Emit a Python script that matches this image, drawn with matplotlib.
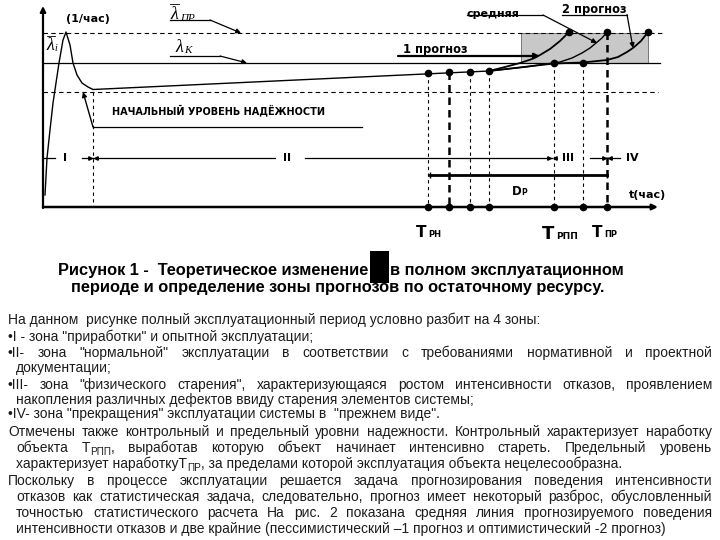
import re
import matplotlib
matplotlib.use('Agg')
import matplotlib.pyplot as plt
from matplotlib.patches import Rectangle

# picture is laid out in pixel units: x to the right, y downwards
W, H = 720, 540

# failure-rate curve lambda(t): running-in peak, then slow rise
curve_x = [45, 47, 50, 53, 59, 63, 66, 70, 73, 77, 82, 88, 93, 489]
curve_y = [195, 158, 130, 103, 63, 40, 32, 45, 63, 75, 83, 87, 89.5, 71]

# observed points before the forecast
obs_x = [428, 449, 470, 489]
obs_y = [73, 72, 72, 71]

# forecasts from the last observed point
fc1_x = [489, 505, 520, 532, 540, 550, 560, 569]          # 1 прогноз
fc1_y = [71, 67, 63, 59, 55, 49, 41, 32]
mid_x = [489, 525, 560, 572, 582, 590, 596, 602, 607]     # средняя
mid_y = [71, 67, 62, 58, 53, 48, 43, 38, 32]
fc2_x = [489, 554, 583, 607, 618, 627, 633, 641, 648]     # 2 прогноз
fc2_y = [71, 63.5, 62.5, 60, 57, 52, 48, 41, 32]
fc_end_x = [554, 583, 569, 607, 648]
fc_end_y = [63, 63, 32, 32, 32]

# times marked on the t axis and the level each one is dropped from
drop_x = [428, 449, 470, 489, 554, 583, 607]
drop_top = [73, 72, 72, 71, 63, 63, 32]

# reliability levels
lam_pr = 33     # предельный
lam_k = 63      # контрольный
lam_0 = 92      # начальный

zone_names = ['I', 'II', 'III', 'IV']
zone_label_x = [65, 287, 568, 632]

body_lines = [
    'На данном  рисунке полный эксплуатационный период условно разбит на 4 зоны:',
    '•I - зона "приработки" и опытной эксплуатации;',
    '•II- зона "нормальной" эксплуатации в соответствии с требованиями нормативной и проектной',
    'документации;',
    '•III- зона "физического старения", характеризующаяся ростом интенсивности отказов, проявлением',
    'накопления различных дефектов ввиду старения элементов системы;',
    '•IV- зона "прекращения" эксплуатации системы в  "прежнем виде".',
    'Отмечены также контрольный и предельный уровни надежности. Контрольный характеризует наработку',
    'объекта T_{РПП}, выработав которую объект начинает интенсивно стареть. Предельный уровень',
    'характеризует наработкуT_{ПР}, за пределами которой эксплуатация объекта нецелесообразна.',
    'Поскольку в процессе эксплуатации решается задача прогнозирования поведения интенсивности',
    'отказов как статистическая задача, следовательно, прогноз имеет некоторый разброс, обусловленный',
    'точностью статистического расчета  На рис. 2 показана средняя линия прогнозируемого поведения',
    'интенсивности отказов и две крайние (пессимистический –1 прогноз и оптимистический -2 прогноз)',
]
body_indent = [8, 8, 8, 16, 8, 16, 8, 8, 16, 16, 8, 16, 16, 16]
body_justify = [0, 0, 1, 0, 1, 0, 0, 1, 1, 0, 1, 1, 1, 0]
body_base = [324, 341, 357, 372, 389, 404, 418, 436, 452, 468, 485, 501, 517, 533]

fig = plt.figure(figsize=(7.2, 5.4), dpi=100)
ax = fig.add_axes([0, 0, 1, 1])
ax.set_xlim(0, W)
ax.set_ylim(H, 0)
ax.axis('off')
R = fig.canvas.get_renderer()

BOLD = dict(family='DejaVu Sans', fontweight='bold', color='k')
LAM = dict(family='Liberation Serif', style='italic', color='k')


def arrow(x0, y0, x1, y1, lw=0.9, ms=7):
    ax.annotate('', xy=(x1, y1), xytext=(x0, y0),
                arrowprops=dict(arrowstyle='-|>', lw=lw, color='k', mutation_scale=ms,
                                shrinkA=0, shrinkB=0))


# ---- levels and the forecast box
ax.plot([43, 662], [lam_pr, lam_pr], color='k', lw=0.8, dashes=(4, 3))
ax.plot([43, 660], [lam_k, lam_k], color='k', lw=0.9)
ax.plot([43, 658], [lam_0, lam_0], color='k', lw=0.8, dashes=(4, 3))
ax.add_patch(Rectangle((521, lam_pr), 127, lam_k - lam_pr, fc='#c8c8c8', ec='#666666',
                       lw=0.6, zorder=1))

# ---- drop lines to the time axis
for i, (x, top) in enumerate(zip(drop_x, drop_top)):
    thick = i in (1, 6)
    ax.plot([x, x], [top, 207], color='k', lw=1.8 if thick else 0.8,
            dashes=(3, 2) if thick else (3, 3))
ax.plot([93, 93], [lam_0, 207], color='k', lw=0.8, dashes=(3, 3))

# ---- curves
ax.plot(curve_x, curve_y, color='k', lw=1.0)
ax.plot(fc1_x, fc1_y, color='k', lw=1.3)
ax.plot(mid_x, mid_y, color='k', lw=1.0)
ax.plot(fc2_x, fc2_y, color='k', lw=1.3)
ax.plot(obs_x, obs_y, 'o', color='k', ms=4.5)
ax.plot(fc_end_x, fc_end_y, 'o', color='k', ms=4.5)

# ---- axes
arrow(43, 208, 43, 6, lw=1.6, ms=8)
arrow(43, 207, 658, 207, lw=1.8, ms=8)
ax.plot(drop_x, [207] * len(drop_x), 'o', color='k', ms=4.5)

# ---- zones
for x0, x1 in [(43, 55), (82, 275), (305, 552), (590, 620)]:
    ax.plot([x0, x1], [158, 158], color='k', lw=0.9)
for x in (93, 552, 607):
    ax.plot([x - 3], [158], '>', color='k', ms=2.5)
    ax.plot([x + 3], [158], '<', color='k', ms=2.5)
for name, x in zip(zone_names, zone_label_x):
    ax.text(x, 158, name, fontsize=8, ha='center', va='center', **BOLD)

# ---- D_P span
ax.plot([430, 607], [175, 175], color='k', lw=2.0)
ax.plot([430, 607], [175, 175], '|', color='k', ms=4)
ax.text(512, 195, 'D', fontsize=8.5, va='baseline', **BOLD)
ax.text(521, 195, 'P', fontsize=5.5, va='baseline', **BOLD)
ax.text(629, 198, 't(час)', fontsize=8, va='baseline', **BOLD)

# ---- time labels
ax.text(416, 237, 'T', fontsize=11, va='baseline', **BOLD)
ax.text(428, 237, 'РН', fontsize=6, va='baseline', **BOLD)
ax.text(542, 239, 'T', fontsize=13, va='baseline', **BOLD)
ax.text(556, 239, 'РПП', fontsize=6.5, va='baseline', **BOLD)
ax.text(592, 237, 'T', fontsize=11, va='baseline', **BOLD)
ax.text(604, 237, 'ПР', fontsize=6, va='baseline', **BOLD)

# ---- initial level note
ax.text(112, 110, 'НАЧАЛЬНЫЙ УРОВЕНЬ НАДЁЖНОСТИ', fontsize=7, va='center', **BOLD)
ax.plot([93, 362], [127, 127], color='k', lw=0.9)
arrow(93, 127, 83, 92, lw=1.0, ms=7)

# ---- lambda labels
ax.text(88, 19, '(1/час)', fontsize=8, ha='center', va='center', **BOLD)
ax.text(170, 19, 'λ', fontsize=13, va='baseline', **LAM)
ax.text(180, 21, 'ПР', fontsize=8, va='baseline', **LAM)
ax.plot([170, 179], [4, 4], color='k', lw=0.6)
ax.plot([170, 210], [20, 20], color='k', lw=0.9)
arrow(210, 20, 241, 33, lw=0.9, ms=7)
ax.text(175, 52, 'λ', fontsize=13, va='baseline', **LAM)
ax.text(184, 53, 'К', fontsize=8, va='baseline', **LAM)
ax.plot([170, 220], [56, 56], color='k', lw=0.9)
arrow(220, 56, 247, 63, lw=0.9, ms=7)
ax.text(46, 50, 'λ', fontsize=13, va='baseline', **LAM)
ax.text(54, 51, 'i', fontsize=7, va='baseline', **LAM)
ax.plot([47, 55], [36, 36], color='k', lw=0.6)

# ---- forecast labels
ax.text(493, 14, 'средняя', fontsize=8, ha='center', va='center', **BOLD)
ax.plot([467, 543], [15, 15], color='k', lw=0.9)
arrow(543, 15, 597, 43, lw=0.9, ms=7)
ax.text(594, 10, '2 прогноз', fontsize=8.3, ha='center', va='center', **BOLD)
ax.plot([562, 627], [14.5, 14.5], color='k', lw=0.9)
arrow(627, 14.5, 633, 48, lw=0.9, ms=7)
ax.text(435, 49, '1 прогноз', fontsize=8.3, ha='center', va='center', **BOLD)
arrow(398, 56, 540, 56, lw=1.6, ms=8)

# ---- caption
CAP = dict(family='Liberation Sans', fontweight='bold', color='k', va='baseline')
probe = ax.text(0, 0, 'Рисунок 1 -  Теоретическое изменение', fontsize=10, **CAP)
cap_fs = 10 * 312 / probe.get_window_extent(R).width
probe.remove()
ax.text(368, 275, 'Рисунок 1 -  Теоретическое изменение', fontsize=cap_fs, ha='right', **CAP)
ax.text(390, 275, 'в полном эксплуатационном', fontsize=cap_fs, ha='left', **CAP)
ax.text(338, 292, 'периоде и определение зоны прогнозов по остаточному ресурсу.', fontsize=cap_fs,
        ha='center', **CAP)
ax.add_patch(Rectangle((370, 251), 19, 32, fc='k', ec='none', zorder=5))

# ---- body text
TXT = dict(family='Liberation Sans', color='#1c1c1c')
probe = ax.text(0, 0, body_lines[0], fontsize=10, **TXT)
body_fs = 10 * 533 / probe.get_window_extent(R).width
probe.remove()


def make_runs(s, y):
    parts, w = [], 0.0
    for piece in re.split(r'(_\{[^}]*\})', s):
        if not piece:
            continue
        if piece.startswith('_{'):
            t = ax.text(0, y + 3, piece[2:-1], fontsize=body_fs * 0.72, va='baseline', **TXT)
        else:
            t = ax.text(0, y, piece, fontsize=body_fs, va='baseline', **TXT)
        parts.append((t, w))
        w += t.get_window_extent(R).width
    return parts, w


def place(parts, x):
    for t, dx in parts:
        t.set_x(x + dx)


for line, x0, just, y in zip(body_lines, body_indent, body_justify, body_base):
    if not just:
        parts, _ = make_runs(line, y)
        place(parts, x0)
        continue
    words = [make_runs(wd, y) for wd in line.split()]
    total = sum(w for _, w in words)
    gap = (712 - x0 - total) / (len(words) - 1)
    x = x0
    for parts, w in words:
        place(parts, x)
        x += w + gap

fig.savefig('out.png', dpi=100)
